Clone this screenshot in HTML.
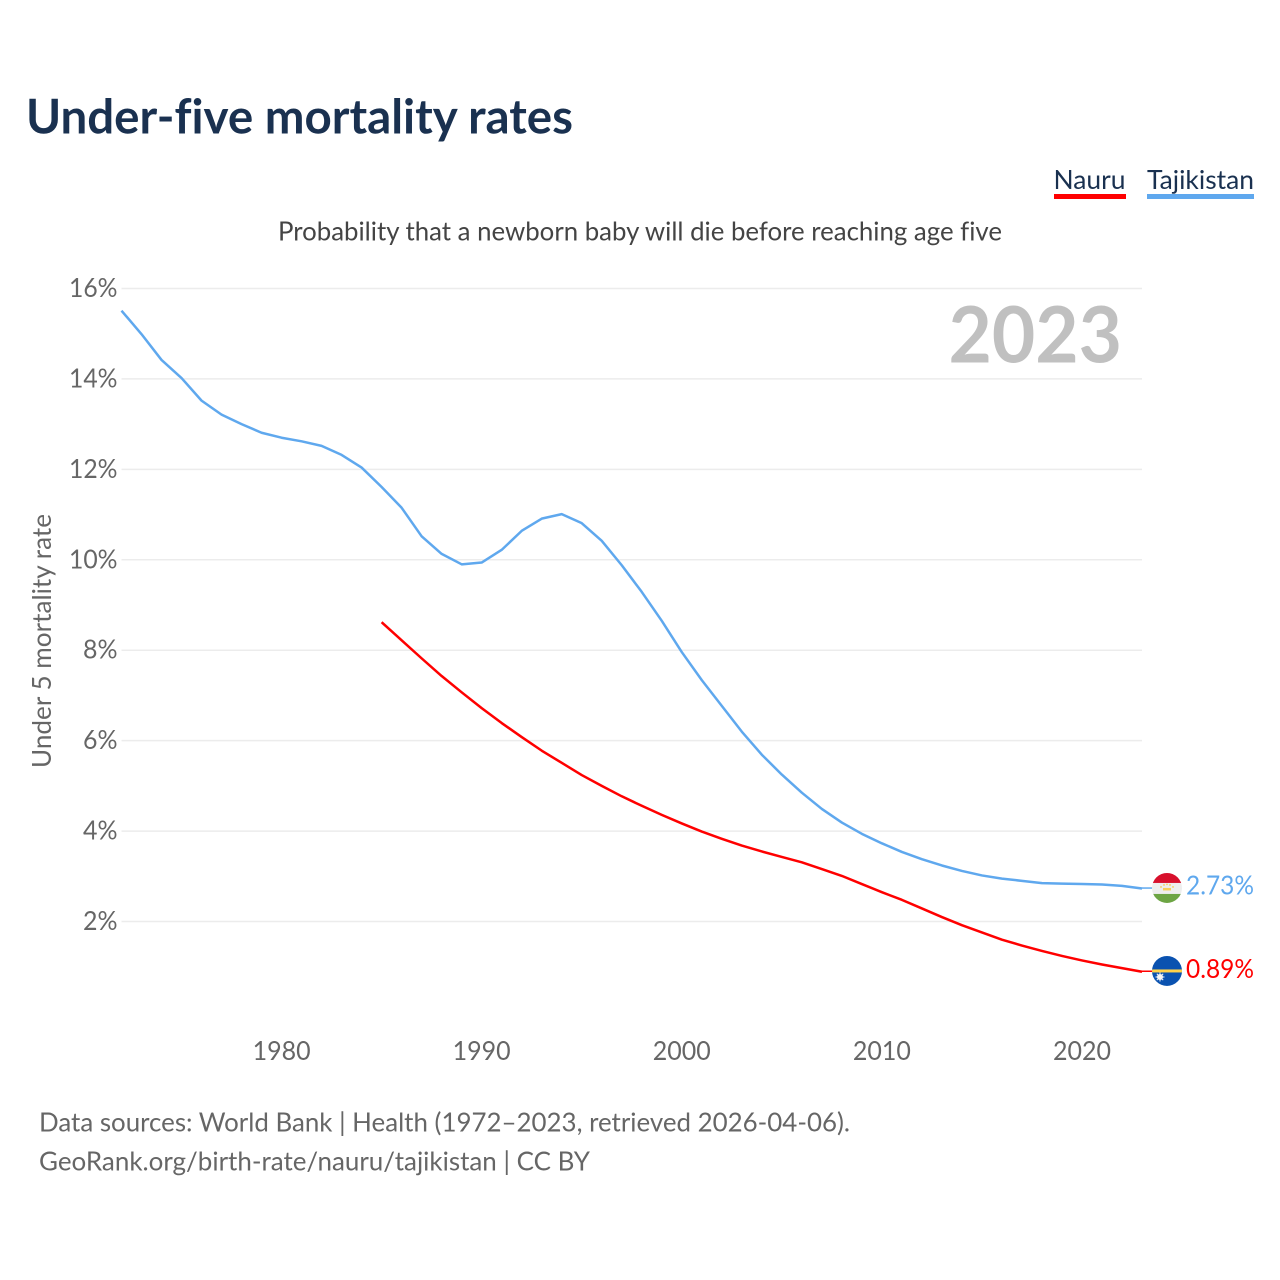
<!DOCTYPE html>
<html lang="en">
<head>
<meta charset="utf-8">
<title>Under-five mortality rates</title>
<style>
  html, body { margin: 0; padding: 0; background: #fff; width: 1280px; height: 1280px; overflow: hidden; }
  svg { display: block; }
  text { font-family: "Lato", "Carlito", "Liberation Sans", sans-serif; font-variant-ligatures: none; }
</style>
</head>
<body>
<svg id="chart" xmlns="http://www.w3.org/2000/svg" width="1280" height="1280" viewBox="0 0 1280 1280">
  <rect x="0" y="0" width="1280" height="1280" fill="#ffffff"/>
  <text x="26" y="133.5" font-size="48" font-weight="700" fill="#1a3150" textLength="547" lengthAdjust="spacingAndGlyphs">Under-five mortality rates</text>

  <g>
    <text x="1053.5" y="189" font-size="26" fill="#1a3150" textLength="72" lengthAdjust="spacingAndGlyphs">Nauru</text>
    <rect x="1054" y="194" width="72" height="5" fill="#ff0000"/>
  </g>
  <g>
    <text x="1147" y="189" font-size="26" fill="#1a3150" textLength="107" lengthAdjust="spacingAndGlyphs">Tajikistan</text>
    <rect x="1147" y="194" width="107" height="5" fill="#5fa8ee"/>
  </g>

  <text x="278" y="240.5" font-size="26" fill="#444444" textLength="724" lengthAdjust="spacingAndGlyphs">Probability that a newborn baby will die before reaching age five</text>

  <g id="grid"></g>
  <g id="y-ticks"></g>
  <g id="x-ticks"></g>

  <text transform="translate(51,768) rotate(-90)" x="0" y="0" font-size="26" fill="#666666" textLength="254" lengthAdjust="spacingAndGlyphs">Under 5 mortality rate</text>
  <text x="948.5" y="362.5" font-size="78" font-weight="700" fill="#c0c0c0" textLength="173.5" lengthAdjust="spacingAndGlyphs">2023</text>

  <g id="series"></g>

  <defs>
    <clipPath id="flag-clip"><circle cx="0" cy="0" r="15"/></clipPath>
  </defs>

  <g id="flag-tajikistan">
    <g clip-path="url(#flag-clip)">
      <rect x="-15" y="-15" width="30" height="30" fill="#eeeeee"/>
      <rect x="-15" y="-15" width="30" height="10" fill="#d8102c"/>
      <rect x="-15" y="6" width="30" height="10" fill="#6da544"/>
      <rect x="-4" y="0" width="8" height="2.5" fill="#f8cf5a"/>
      <circle cx="-6" cy="-1" r="0.9" fill="#f8cf5a"/>
      <circle cx="-3" cy="-3" r="0.9" fill="#f8cf5a"/>
      <circle cx="0" cy="-3.6" r="0.9" fill="#f8cf5a"/>
      <circle cx="3" cy="-3" r="0.9" fill="#f8cf5a"/>
      <circle cx="6" cy="-1" r="0.9" fill="#f8cf5a"/>
    </g>
  </g>
  <g id="flag-nauru">
    <g clip-path="url(#flag-clip)">
      <rect x="-15" y="-15" width="30" height="30" fill="#0a52b0"/>
      <rect x="-15" y="-1.5" width="30" height="3" fill="#ffd24a"/>
      <circle cx="-7" cy="6" r="3" fill="#f4f4f4"/>
      <path d="M-7 1.5 V10.5 M-11.5 6 H-2.5 M-10.2 2.8 L-3.8 9.2 M-10.2 9.2 L-3.8 2.8" stroke="#f4f4f4" stroke-width="1" fill="none"/>
    </g>
  </g>

  <g id="end-labels"></g>

  <text x="39" y="1131.5" font-size="26" fill="#666666" textLength="811" lengthAdjust="spacingAndGlyphs">Data sources: World Bank | Health (1972–2023, retrieved 2026-04-06).</text>
  <text x="39" y="1170.5" font-size="26" fill="#666666" textLength="551" lengthAdjust="spacingAndGlyphs">GeoRank.org/birth-rate/nauru/tajikistan | CC BY</text>
</svg>

<script>
const yTickValues = [2, 4, 6, 8, 10, 12, 14, 16];
const xTickYears = [1980, 1990, 2000, 2010, 2020];
const tajikistanStartYear = 1972;
const tajikistanValues = [
  15.51, 14.99, 14.42, 14.02, 13.52, 13.21, 13.00, 12.81, 12.70, 12.62,
  12.52, 12.32, 12.04, 11.61, 11.15, 10.52, 10.13, 9.90, 9.94, 10.22,
  10.64, 10.91, 11.01, 10.81, 10.42, 9.88, 9.29, 8.65, 7.96, 7.34,
  6.77, 6.20, 5.69, 5.25, 4.85, 4.49, 4.19, 3.94, 3.73, 3.54,
  3.38, 3.24, 3.12, 3.02, 2.95, 2.90, 2.85, 2.84, 2.83, 2.82,
  2.79, 2.73
];
const nauruStartYear = 1985;
const nauruValues = [
  8.62, 8.22, 7.82, 7.43, 7.07, 6.72, 6.39, 6.08, 5.78, 5.51,
  5.24, 5.00, 4.77, 4.56, 4.36, 4.17, 3.99, 3.83, 3.68, 3.55,
  3.43, 3.31, 3.16, 3.01, 2.83, 2.65, 2.48, 2.29, 2.10, 1.92,
  1.76, 1.60, 1.47, 1.35, 1.24, 1.14, 1.05, 0.97, 0.89
];

const SVG_NS = 'http://www.w3.org/2000/svg';
const plotLeft = 121.5;
const plotRight = 1142;
const firstYear = 1972;
const lastYear = 2023;
const yZero = 1012;
const pxPerPercent = 45.22;

function xScale(year) {
  return plotLeft + (year - firstYear) * (plotRight - plotLeft) / (lastYear - firstYear);
}
function yScale(value) {
  return yZero - value * pxPerPercent;
}
function svgEl(tag) {
  return document.createElementNS(SVG_NS, tag);
}
function linePath(startYear, values) {
  return values.map(function (v, i) {
    return (i === 0 ? 'M' : 'L') + xScale(startYear + i).toFixed(2) + ' ' + yScale(v).toFixed(2);
  }).join(' ');
}

const gridGroup = document.getElementById('grid');
const yTickGroup = document.getElementById('y-ticks');
yTickValues.forEach(function (v) {
  const line = svgEl('line');
  
  
  line.setAttribute('x1', plotLeft);
  line.setAttribute('x2', plotRight);
  line.setAttribute('y1', yScale(v));
  line.setAttribute('y2', yScale(v));
  line.setAttribute('stroke', '#ececec');
  line.setAttribute('stroke-width', '1.5');
  gridGroup.appendChild(line);

  const label = svgEl('text');
  
  
  const labelWidth = v >= 10 ? 48.5 : 34.5;
  label.setAttribute('x', 117.5 - labelWidth);
  label.setAttribute('y', yScale(v) + 8.5);
  label.setAttribute('font-size', '26');
  label.setAttribute('fill', '#666666');
  label.setAttribute('textLength', labelWidth);
  label.setAttribute('lengthAdjust', 'spacingAndGlyphs');
  label.textContent = v + '%';
  yTickGroup.appendChild(label);
});

const xTickGroup = document.getElementById('x-ticks');
xTickYears.forEach(function (year) {
  const label = svgEl('text');
  
  
  label.setAttribute('x', xScale(year) - 29);
  label.setAttribute('y', 1060);
  label.setAttribute('font-size', '26');
  label.setAttribute('fill', '#666666');
  label.setAttribute('textLength', '58');
  label.setAttribute('lengthAdjust', 'spacingAndGlyphs');
  label.textContent = String(year);
  xTickGroup.appendChild(label);
});

const seriesGroup = document.getElementById('series');

const tajikLine = svgEl('path');


tajikLine.setAttribute('d', linePath(tajikistanStartYear, tajikistanValues));
tajikLine.setAttribute('fill', 'none');
tajikLine.setAttribute('stroke', '#5fa8ee');
tajikLine.setAttribute('stroke-width', '2.5');
tajikLine.setAttribute('stroke-linejoin', 'round');
seriesGroup.appendChild(tajikLine);

const nauruLine = svgEl('path');


nauruLine.setAttribute('d', linePath(nauruStartYear, nauruValues));
nauruLine.setAttribute('fill', 'none');
nauruLine.setAttribute('stroke', '#ff0000');
nauruLine.setAttribute('stroke-width', '2.5');
nauruLine.setAttribute('stroke-linejoin', 'round');
seriesGroup.appendChild(nauruLine);

const tajikLast = tajikistanValues[tajikistanValues.length - 1];
const nauruLast = nauruValues[nauruValues.length - 1];

const tajikLeader = svgEl('line');


tajikLeader.setAttribute('x1', plotRight);
tajikLeader.setAttribute('x2', 1154);
tajikLeader.setAttribute('y1', yScale(tajikLast) - 0.5);
tajikLeader.setAttribute('y2', yScale(tajikLast) - 0.5);
tajikLeader.setAttribute('stroke', '#5fa8ee');
tajikLeader.setAttribute('stroke-width', '1.5');
seriesGroup.appendChild(tajikLeader);

const nauruLeader = svgEl('line');


nauruLeader.setAttribute('x1', plotRight);
nauruLeader.setAttribute('x2', 1154);
nauruLeader.setAttribute('y1', yScale(nauruLast) - 0.5);
nauruLeader.setAttribute('y2', yScale(nauruLast) - 0.5);
nauruLeader.setAttribute('stroke', '#ff0000');
nauruLeader.setAttribute('stroke-width', '1.5');
seriesGroup.appendChild(nauruLeader);

document.getElementById('flag-tajikistan').setAttribute('transform', 'translate(1167,' + (yScale(tajikLast) - 0.6) + ')');
document.getElementById('flag-nauru').setAttribute('transform', 'translate(1167,' + (yScale(nauruLast) - 0.8) + ')');

const endGroup = document.getElementById('end-labels');

const tajikLabel = svgEl('text');


tajikLabel.setAttribute('x', 1186);
tajikLabel.setAttribute('y', yScale(tajikLast) + 6);
tajikLabel.setAttribute('font-size', '26');
tajikLabel.setAttribute('fill', '#5fa8ee');
tajikLabel.setAttribute('textLength', '68');
tajikLabel.setAttribute('lengthAdjust', 'spacingAndGlyphs');
tajikLabel.textContent = tajikLast.toFixed(2) + '%';
endGroup.appendChild(tajikLabel);

const nauruLabel = svgEl('text');


nauruLabel.setAttribute('x', 1186);
nauruLabel.setAttribute('y', yScale(nauruLast) + 6);
nauruLabel.setAttribute('font-size', '26');
nauruLabel.setAttribute('fill', '#ff0000');
nauruLabel.setAttribute('textLength', '68');
nauruLabel.setAttribute('lengthAdjust', 'spacingAndGlyphs');
nauruLabel.textContent = nauruLast.toFixed(2) + '%';
endGroup.appendChild(nauruLabel);
</script>
</body>
</html>
